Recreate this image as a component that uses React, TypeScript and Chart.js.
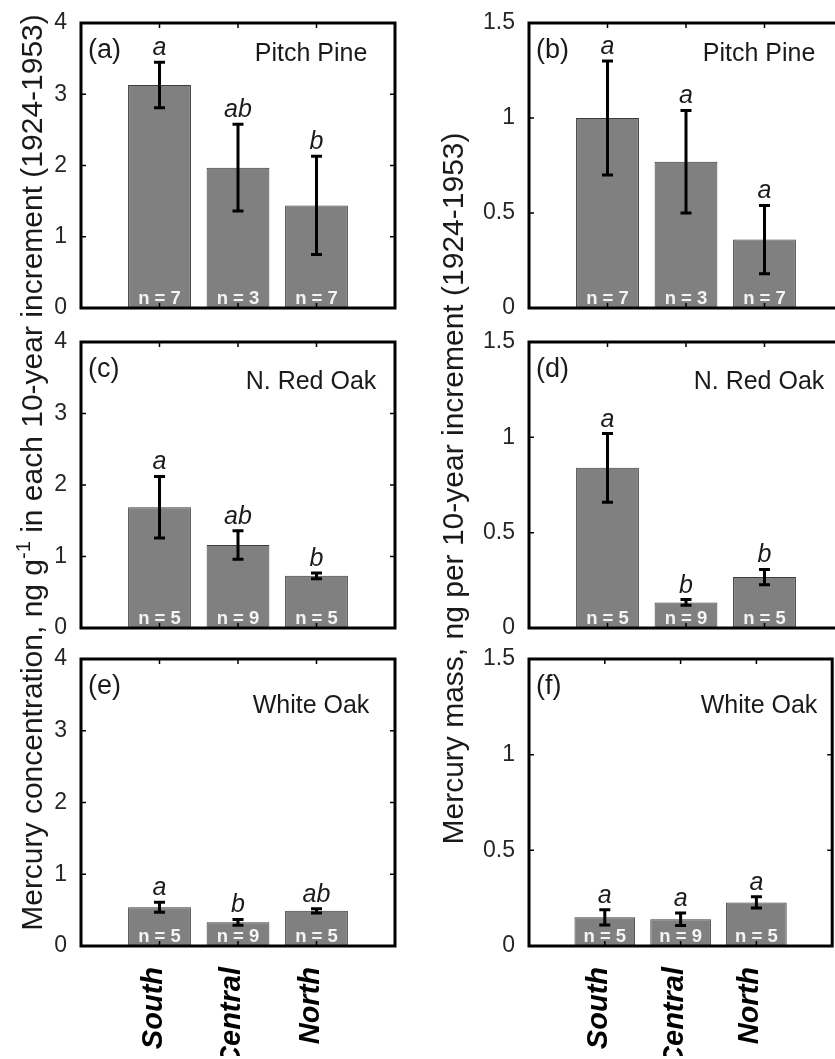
import React, { useEffect, useRef } from 'react';
import { Chart, registerables } from 'chart.js';

Chart.register(...registerables);

// ---------- data ----------
const categories = ['South', 'Central', 'North'];
const speciesNames = ['Pitch Pine', 'N. Red Oak', 'White Oak'];
const panelTags = ['(a)', '(b)', '(c)', '(d)', '(e)', '(f)'];

const pineN = [7, 3, 7];
const redOakN = [5, 9, 5];
const whiteOakN = [5, 9, 5];

// Mercury concentration (ng/g) per 10-year increment
const pineConc = [3.13, 1.97, 1.44];
const pineConcErr = [0.32, 0.61, 0.69];
const pineConcLetters = ['a', 'ab', 'b'];

const redOakConc = [1.69, 1.16, 0.73];
const redOakConcErr = [0.43, 0.2, 0.04];
const redOakConcLetters = ['a', 'ab', 'b'];

const whiteOakConc = [0.54, 0.33, 0.49];
const whiteOakConcErr = [0.07, 0.04, 0.03];
const whiteOakConcLetters = ['a', 'b', 'ab'];

// Mercury mass (ng) per 10-year increment
const pineMass = [1.0, 0.77, 0.36];
const pineMassErr = [0.3, 0.27, 0.18];
const pineMassLetters = ['a', 'a', 'a'];

const redOakMass = [0.84, 0.134, 0.267];
const redOakMassErr = [0.18, 0.015, 0.04];
const redOakMassLetters = ['a', 'b', 'b'];

const whiteOakMass = [0.15, 0.14, 0.228];
const whiteOakMassErr = [0.04, 0.033, 0.03];
const whiteOakMassLetters = ['a', 'a', 'a'];

const concAxisMax = 4;
const concAxisStep = 1;
const massAxisMax = 1.5;
const massAxisStep = 0.5;

const concTitleMain = 'Mercury concentration, ng g';
const concTitleSup = '-1';
const concTitleEnd = ' in each 10-year increment (1924-1953)';
const massTitle = 'Mercury mass, ng per 10-year increment (1924-1953)';

// ---------- layout ----------
const FIG_W = 835;
const FIG_H = 1059;
const colLeft = [81, 529];
const plotW = 314;
const rowTop = [23, 342, 659];
const rowBottom = [308, 628, 946];
const speciesLabelDy = [38, 47, 54];
const Y_AXIS_W = 70;
const X_AXIS_H = 110;
const FONT = '"Liberation Sans", Arial, Helvetica, sans-serif';
const TEXT_COLOR = '#1a1a1a';
const TICK_COLOR = '#262626';

type PanelDef = {
  row: number;
  col: number;
  tag: string;
  species: string;
  means: number[];
  errs: number[];
  letters: string[];
  n: number[];
  yMax: number;
  yStep: number;
};

const panels: PanelDef[] = [
  { row: 0, col: 0, tag: panelTags[0], species: speciesNames[0], means: pineConc, errs: pineConcErr, letters: pineConcLetters, n: pineN, yMax: concAxisMax, yStep: concAxisStep },
  { row: 0, col: 1, tag: panelTags[1], species: speciesNames[0], means: pineMass, errs: pineMassErr, letters: pineMassLetters, n: pineN, yMax: massAxisMax, yStep: massAxisStep },
  { row: 1, col: 0, tag: panelTags[2], species: speciesNames[1], means: redOakConc, errs: redOakConcErr, letters: redOakConcLetters, n: redOakN, yMax: concAxisMax, yStep: concAxisStep },
  { row: 1, col: 1, tag: panelTags[3], species: speciesNames[1], means: redOakMass, errs: redOakMassErr, letters: redOakMassLetters, n: redOakN, yMax: massAxisMax, yStep: massAxisStep },
  { row: 2, col: 0, tag: panelTags[4], species: speciesNames[2], means: whiteOakConc, errs: whiteOakConcErr, letters: whiteOakConcLetters, n: whiteOakN, yMax: concAxisMax, yStep: concAxisStep },
  { row: 2, col: 1, tag: panelTags[5], species: speciesNames[2], means: whiteOakMass, errs: whiteOakMassErr, letters: whiteOakMassLetters, n: whiteOakN, yMax: massAxisMax, yStep: massAxisStep },
];

function drawConcTitle(ctx: CanvasRenderingContext2D) {
  ctx.save();
  ctx.translate(42, 472.5);
  ctx.rotate(-Math.PI / 2);
  ctx.fillStyle = TEXT_COLOR;
  ctx.textBaseline = 'alphabetic';
  ctx.textAlign = 'left';
  const big = `30px ${FONT}`;
  const small = `20px ${FONT}`;
  ctx.font = big;
  const w1 = ctx.measureText(concTitleMain).width;
  const w3 = ctx.measureText(concTitleEnd).width;
  ctx.font = small;
  const w2 = ctx.measureText(concTitleSup).width;
  const start = -(w1 + w2 + w3) / 2;
  ctx.font = big;
  ctx.fillText(concTitleMain, start, 0);
  ctx.font = small;
  ctx.fillText(concTitleSup, start + w1, -12);
  ctx.font = big;
  ctx.fillText(concTitleEnd, start + w1 + w2, 0);
  ctx.restore();
}

function drawMassTitle(ctx: CanvasRenderingContext2D) {
  ctx.save();
  ctx.translate(463, 488.5);
  ctx.rotate(-Math.PI / 2);
  ctx.fillStyle = TEXT_COLOR;
  ctx.textBaseline = 'alphabetic';
  ctx.textAlign = 'center';
  ctx.font = `30px ${FONT}`;
  ctx.fillText(massTitle, 0, 0);
  ctx.restore();
}

function makeDecor(p: PanelDef) {
  return {
    id: 'decor',
    afterDatasetsDraw(chart: any) {
      const ctx: CanvasRenderingContext2D = chart.ctx;
      const { left, right, top, bottom } = chart.chartArea;
      const xs = chart.scales.x;
      const ys = chart.scales.y;
      const meta = chart.getDatasetMeta(0);
      ctx.save();
      // error bars, letters, n labels
      p.means.forEach((m, i) => {
        const bar = meta.data[i + 1];
        const x = bar.x;
        const yHi = ys.getPixelForValue(m + p.errs[i]);
        const yLo = ys.getPixelForValue(m - p.errs[i]);
        ctx.strokeStyle = '#000';
        ctx.lineWidth = 3;
        ctx.lineCap = 'butt';
        ctx.beginPath();
        ctx.moveTo(x, yHi);
        ctx.lineTo(x, yLo);
        ctx.moveTo(x - 5.5, yHi);
        ctx.lineTo(x + 5.5, yHi);
        ctx.moveTo(x - 5.5, yLo);
        ctx.lineTo(x + 5.5, yLo);
        ctx.stroke();

        ctx.fillStyle = TEXT_COLOR;
        ctx.textAlign = 'center';
        ctx.textBaseline = 'alphabetic';
        ctx.font = `italic 25px ${FONT}`;
        ctx.fillText(p.letters[i], x, yHi - 7);

        ctx.fillStyle = '#f4f4f4';
        ctx.font = `bold 18.5px ${FONT}`;
        ctx.fillText(`n = ${p.n[i]}`, x, bottom - 4);
      });

      // inner tick marks
      ctx.strokeStyle = '#000';
      ctx.lineWidth = 1.5;
      ctx.beginPath();
      categories.forEach((_, i) => {
        const x = xs.getPixelForValue(i + 1);
        ctx.moveTo(x, top);
        ctx.lineTo(x, top + 5);
        ctx.moveTo(x, bottom);
        ctx.lineTo(x, bottom - 5);
      });
      ys.ticks.forEach((t: any) => {
        const y = ys.getPixelForValue(t.value);
        ctx.moveTo(left, y);
        ctx.lineTo(left + 5, y);
        ctx.moveTo(right, y);
        ctx.lineTo(right - 5, y);
      });
      ctx.stroke();

      // frame
      ctx.lineWidth = 3;
      ctx.strokeRect(left, top, right - left, bottom - top);

      // panel tag and species
      ctx.fillStyle = TEXT_COLOR;
      ctx.textBaseline = 'alphabetic';
      ctx.textAlign = 'left';
      ctx.font = `27px ${FONT}`;
      ctx.fillText(p.tag, left + 7, top + 35);
      ctx.textAlign = 'center';
      ctx.font = `25px ${FONT}`;
      ctx.fillText(p.species, left + 230, top + speciesLabelDy[p.row]);
      ctx.restore();

      if (p.row === 1 && p.col === 0) drawConcTitle(ctx);
      if (p.row === 1 && p.col === 1) drawMassTitle(ctx);
    },
  };
}

function Panel({ p }: { p: PanelDef }) {
  const ref = useRef<HTMLCanvasElement>(null);
  const canvasW = p.col === 0 ? FIG_W : 880;
  useEffect(() => {
    if (!ref.current) return;
    const showX = p.row === 2;
    const xH = showX ? X_AXIS_H : 0;
    const chart = new Chart(ref.current, {
      type: 'bar',
      data: {
        labels: ['', ...categories, ''],
        datasets: [
          {
            data: [null, ...p.means, null],
            backgroundColor: '#808080',
            borderColor: '#3c3c3c',
            borderWidth: 1,
            barPercentage: 0.8,
            categoryPercentage: 1.0,
          },
        ],
      },
      options: {
        responsive: false,
        maintainAspectRatio: false,
        animation: false,
        devicePixelRatio: 1,
        layout: {
          padding: {
            left: colLeft[p.col] - Y_AXIS_W,
            right: canvasW - (colLeft[p.col] + plotW),
            top: rowTop[p.row],
            bottom: FIG_H - rowBottom[p.row] - xH,
          },
        },
        plugins: {
          legend: { display: false },
          tooltip: { enabled: false },
          title: { display: false },
        },
        scales: {
          x: {
            type: 'category',
            offset: false,
            grid: { display: false },
            border: { display: false },
            afterFit: (s: any) => {
              s.height = xH;
            },
            ticks: {
              display: showX,
              autoSkip: false,
              minRotation: 90,
              maxRotation: 90,
              padding: 13,
              labelOffset: -6,
              color: '#000',
              font: { family: FONT, size: 29, weight: 'bold', style: 'italic' },
            },
          },
          y: {
            min: 0,
            max: p.yMax,
            grid: { display: false },
            border: { display: false },
            afterFit: (s: any) => {
              s.width = Y_AXIS_W;
            },
            ticks: {
              stepSize: p.yStep,
              padding: 6,
              color: TICK_COLOR,
              font: { family: FONT, size: 23 },
              callback: (v: any) => String(Number(v)),
            },
          },
        },
      },
      plugins: [makeDecor(p)],
    } as any);
    return () => chart.destroy();
  }, []);
  return (
    <canvas
      ref={ref}
      width={canvasW}
      height={FIG_H}
      style={{ position: 'absolute', left: 0, top: 0, width: canvasW, height: FIG_H }}
    />
  );
}

export default function App() {
  return (
    <div
      style={{
        position: 'fixed',
        left: 0,
        top: 0,
        width: FIG_W,
        height: FIG_H,
        overflow: 'hidden',
        background: '#fff',
      }}
    >
      {panels.map((p, k) => (
        <Panel key={k} p={p} />
      ))}
    </div>
  );
}
